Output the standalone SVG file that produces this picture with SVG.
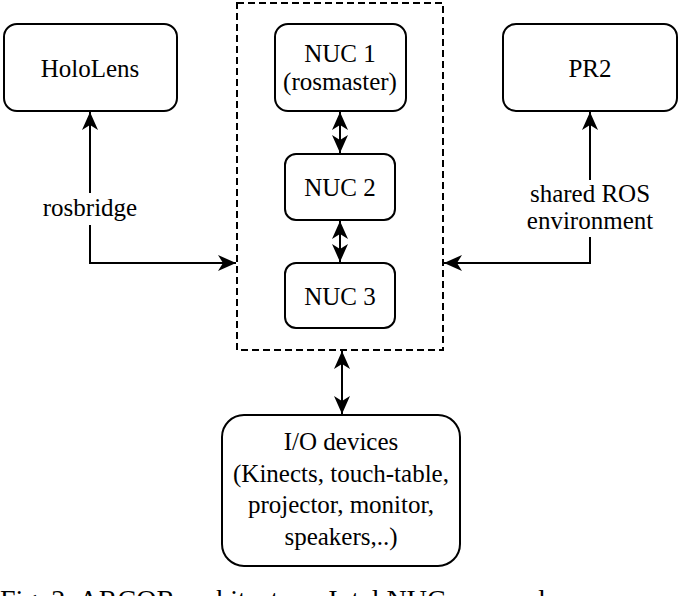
<svg xmlns="http://www.w3.org/2000/svg" width="680" height="596" viewBox="0 0 680 596">
<style>
.box{fill:#fff;stroke:#000;stroke-width:2}
.t{font-family:"Liberation Serif","Times New Roman",serif;font-size:25px;fill:#000;text-anchor:middle}
.ln{fill:none;stroke:#000;stroke-width:2}
.cap{font-family:"Liberation Serif","Times New Roman",serif;font-size:28px;fill:#000}
</style>
<defs>
<marker id="ah" markerUnits="userSpaceOnUse" markerWidth="20" markerHeight="16" refX="18" refY="8" orient="auto-start-reverse">
<path d="M0,0 L18,8 L0,16 L5,8 Z" fill="#000"/>
</marker>
</defs>
<rect width="680" height="596" fill="#fff"/>
<g id="nuc-group">
<rect x="237" y="3" width="206" height="347" fill="none" stroke="#000" stroke-width="2" stroke-dasharray="7 4"/>
</g>
<g id="hololens">
<rect class="box" x="4" y="24" width="173" height="87" rx="13"/>
<text class="t" x="90" y="77">HoloLens</text>
</g>
<g id="pr2">
<rect class="box" x="503" y="24" width="174" height="87" rx="13"/>
<text class="t" x="590" y="77">PR2</text>
</g>
<g id="nuc1">
<rect class="box" x="275" y="24" width="131" height="87" rx="13"/>
<text class="t" x="340" y="62">NUC 1</text>
<text class="t" x="340" y="90">(rosmaster)</text>
</g>
<g id="nuc2">
<rect class="box" x="285" y="154" width="110" height="66" rx="11"/>
<text class="t" x="340" y="196">NUC 2</text>
</g>
<g id="nuc3">
<rect class="box" x="285" y="263" width="110" height="65" rx="11"/>
<text class="t" x="340" y="305">NUC 3</text>
</g>
<g id="io">
<rect class="box" x="222" y="415" width="238" height="151" rx="22"/>
<text class="t" x="341" y="450">I/O devices</text>
<text class="t" x="341" y="482">(Kinects, touch-table,</text>
<text class="t" x="341" y="513">projector, monitor,</text>
<text class="t" x="341" y="545">speakers,..)</text>
</g>
<g id="connectors">
<path class="ln" d="M90,112 V263 H236" marker-start="url(#ah)" marker-end="url(#ah)"/>
<path class="ln" d="M590,112 V263 H444" marker-start="url(#ah)" marker-end="url(#ah)"/>
<path class="ln" d="M340,112 V153" marker-start="url(#ah)" marker-end="url(#ah)"/>
<path class="ln" d="M340,221 V262" marker-start="url(#ah)" marker-end="url(#ah)"/>
<path class="ln" d="M342,351 V414" marker-start="url(#ah)" marker-end="url(#ah)"/>
<rect x="40" y="193" width="100" height="32" fill="#fff"/>
<text class="t" x="90" y="216">rosbridge</text>
<rect x="526" y="180" width="128" height="57" fill="#fff"/>
<text class="t" x="590" y="202">shared ROS</text>
<text class="t" x="590" y="229">environment</text>
</g>
<text class="cap" x="0" y="609">Fig. 2: ARCOR architecture. Intel NUC are used</text>
</svg>
